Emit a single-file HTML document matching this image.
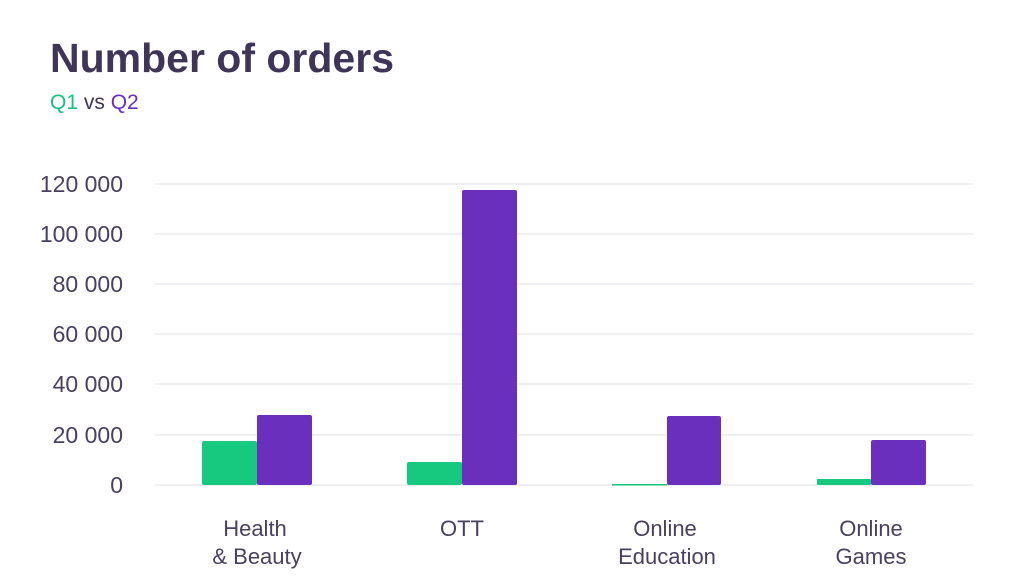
<!DOCTYPE html>
<html><head><style>
body{margin:0;background:#fff;font-family:"Liberation Sans",sans-serif;}
</style></head><body>
<svg width="1024" height="579" xmlns="http://www.w3.org/2000/svg" style="display:block">
<rect width="1024" height="579" fill="#fff"/>
<text x="50" y="72" font-size="41" font-weight="bold" fill="#3f3558" letter-spacing="0">Number of orders</text>
<text x="50" y="109" font-size="21" fill="#3f3558"><tspan fill="#16c47f">Q1</tspan> vs <tspan fill="#6a2fc0">Q2</tspan></text>
<g stroke="#ececf0" stroke-width="1.5">
<line x1="155" x2="973" y1="184" y2="184"/><line x1="155" x2="973" y1="234" y2="234"/>
<line x1="155" x2="973" y1="284" y2="284"/><line x1="155" x2="973" y1="334" y2="334"/>
<line x1="155" x2="973" y1="384" y2="384"/><line x1="155" x2="973" y1="435" y2="435"/>
<line x1="155" x2="973" y1="485" y2="485"/>
</g>
<g font-size="23" fill="#4a4060" text-anchor="end">
<text x="123" y="192">120 000</text><text x="123" y="242">100 000</text>
<text x="123" y="292">80 000</text><text x="123" y="342">60 000</text>
<text x="123" y="392">40 000</text><text x="123" y="443">20 000</text>
<text x="123" y="493">0</text>
</g>
<g fill="#16c97f">
<rect x="202" y="441" width="55" height="44" rx="2"/>
<rect x="407" y="462" width="55" height="23" rx="2"/>
<rect x="612" y="484" width="55" height="1.5"/>
<rect x="817" y="479" width="54" height="6" rx="1"/>
</g>
<g fill="#6a2fbd">
<rect x="257" y="415" width="55" height="70" rx="2"/>
<rect x="462" y="190" width="55" height="295" rx="2"/>
<rect x="667" y="416" width="54" height="69" rx="2"/>
<rect x="871" y="440" width="55" height="45" rx="2"/>
</g>
<g font-size="22" fill="#4a4060" text-anchor="middle">
<text x="255" y="536">Health</text><text x="257" y="564">&amp; Beauty</text>
<text x="462" y="536">OTT</text>
<text x="665" y="536">Online</text><text x="667" y="564">Education</text>
<text x="871" y="536">Online</text><text x="871" y="564">Games</text>
</g>
</svg>
</body></html>
